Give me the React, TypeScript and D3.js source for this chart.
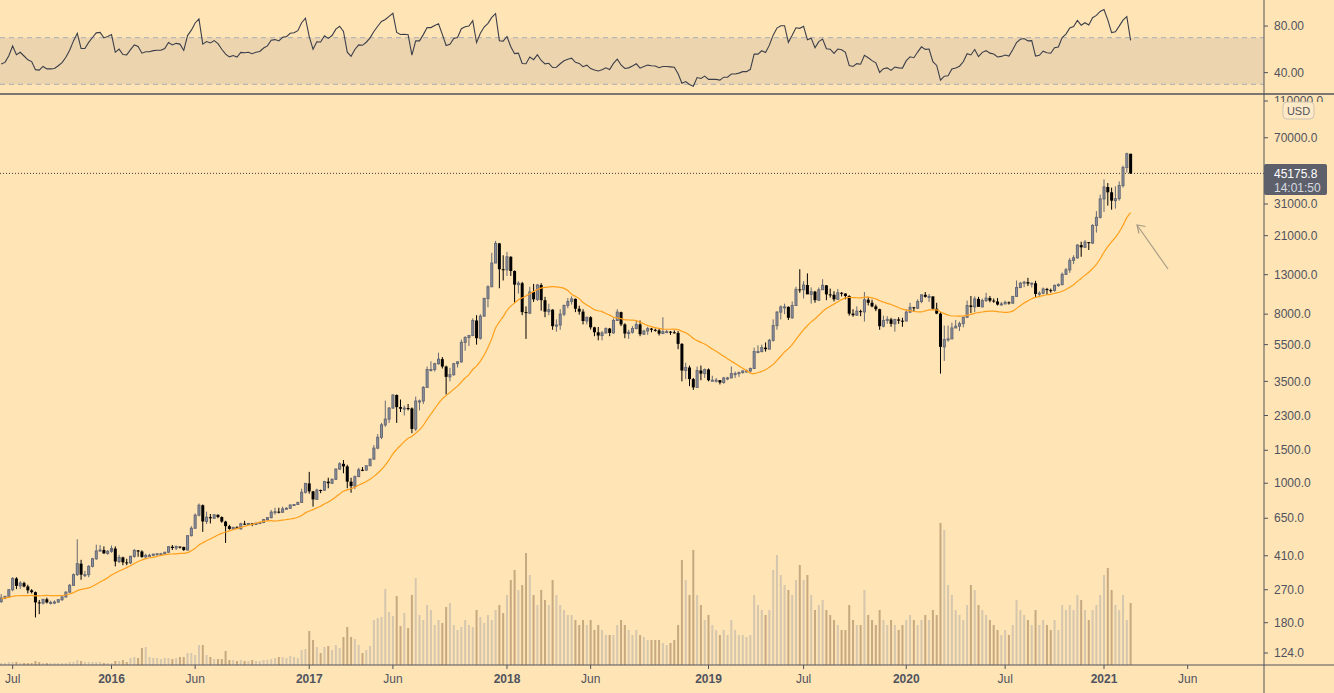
import React from 'react';
import * as d3 from 'd3';

const W = 1334;
const H = 693;

// weekly closes before the first drawn bar (Oct 2014 - Jun 2015), used by the MA and RSI
const warmupCloses = [320, 390, 385, 355, 325, 365, 385, 375, 378, 375, 350, 320, 318, 285, 268, 210, 255,
  226, 223, 234, 236, 260, 276, 285, 267, 248, 255, 236, 222, 219, 240, 240, 236, 240, 230, 225, 233];

// weekly bars [open, high, low, close], first bar 2015-06-15
const bars2015 = [
  [233, 256, 230, 244], [244, 249, 240, 249], [249, 272, 249, 270], [270, 315, 265, 310], [310, 315, 272, 283],
  [283, 300, 272, 293], [293, 298, 278, 281], [281, 287, 258, 268], [268, 272, 258, 262], [262, 264, 192, 231],
  [231, 238, 200, 229], [229, 240, 225, 240], [240, 245, 228, 231], [231, 236, 225, 231], [231, 237, 226, 232],
  [232, 240, 230, 239], [239, 249, 235, 247], [247, 265, 245, 262], [262, 290, 260, 285], [285, 330, 283, 325],
  [325, 502, 320, 372], [372, 390, 305, 325], [325, 340, 315, 325], [325, 365, 315, 360], [360, 400, 355, 395],
  [395, 470, 390, 435], [435, 468, 430, 440], [440, 460, 420, 422], [422, 440, 415, 433],
];
const bars2016 = [
  [433, 465, 425, 448], [448, 460, 360, 382], [382, 415, 375, 402], [402, 405, 365, 378], [378, 395, 365, 376],
  [376, 410, 370, 407], [407, 445, 400, 438], [438, 440, 405, 432], [432, 438, 400, 404], [404, 420, 400, 412],
  [412, 420, 408, 412], [412, 420, 408, 418], [418, 422, 412, 420], [420, 425, 415, 420], [420, 430, 418, 428],
  [428, 462, 425, 458], [458, 468, 440, 451], [451, 465, 440, 459], [459, 460, 448, 457], [457, 458, 435, 440],
  [440, 525, 438, 525], [525, 590, 520, 575], [575, 690, 570, 675], [675, 780, 665, 763], [763, 770, 550, 625],
  [625, 705, 605, 659], [659, 685, 610, 650], [650, 680, 645, 679], [679, 680, 650, 660], [660, 665, 615, 624],
  [624, 630, 480, 590], [590, 600, 565, 570], [570, 585, 565, 581], [581, 590, 570, 571], [571, 615, 565, 608],
  [608, 630, 600, 606], [606, 612, 600, 610], [610, 612, 590, 602], [602, 615, 600, 612], [612, 620, 605, 617],
  [617, 645, 612, 640], [640, 660, 630, 655], [655, 720, 650, 700], [700, 740, 680, 705], [705, 740, 690, 700],
  [700, 750, 695, 730], [730, 745, 725, 735], [735, 770, 730, 765], [765, 775, 755, 770], [770, 795, 765, 790],
  [790, 935, 785, 895], [895, 1000, 880, 998],
];
const bars2017 = [
  [998, 1150, 880, 905], [905, 910, 750, 820], [820, 935, 815, 920], [920, 925, 885, 918], [918, 1030, 915, 1020],
  [1020, 1070, 940, 1000], [1000, 1060, 990, 1050], [1050, 1200, 1040, 1190], [1190, 1295, 1180, 1270],
  [1270, 1330, 1130, 1230], [1230, 1255, 940, 1020], [1020, 1070, 890, 965], [965, 1100, 930, 1085],
  [1085, 1210, 1080, 1180], [1180, 1220, 1160, 1175], [1175, 1240, 1170, 1240], [1240, 1350, 1240, 1345],
  [1345, 1600, 1340, 1540], [1540, 1830, 1520, 1760], [1760, 2100, 1720, 2050], [2050, 2760, 2000, 2200],
  [2200, 2550, 2100, 2520], [2520, 2980, 2500, 2960], [2960, 2980, 2100, 2550], [2550, 2800, 2400, 2500],
  [2500, 2600, 2300, 2520], [2520, 2650, 2450, 2510], [2510, 2540, 1850, 1950], [1950, 2900, 1900, 2750],
  [2750, 2800, 2450, 2750], [2750, 3300, 2650, 3250], [3250, 4200, 3250, 4050], [4050, 4480, 3950, 4050],
  [4050, 4400, 3950, 4350], [4350, 4980, 4300, 4600], [4600, 4720, 4100, 4200], [4200, 4250, 2980, 3700],
  [3700, 4130, 3500, 3800], [3800, 4400, 3750, 4350], [4350, 4480, 4150, 4450], [4450, 5850, 4400, 5650],
  [5650, 6100, 5100, 6000], [6000, 6200, 5400, 6150], [6150, 7600, 6100, 7400], [7400, 7900, 5500, 5950],
  [5950, 8000, 5850, 7800], [7800, 9800, 7800, 9700], [9700, 11400, 8700, 11200], [11200, 17000, 11200, 15000],
  [15000, 19700, 15000, 19100], [19100, 19200, 11000, 13900], [13900, 16500, 12100, 13800],
];
const bars2018 = [
  [13800, 17200, 12800, 16200], [16200, 16300, 12800, 13600], [13600, 13700, 9200, 11500], [11500, 12000, 10300, 11700],
  [11700, 11900, 7900, 8200], [8200, 8800, 5900, 8100], [8100, 11200, 8000, 10500], [10500, 11600, 9300, 9600],
  [9600, 11600, 9400, 11450], [11450, 11700, 8350, 9500], [9500, 9900, 7700, 8250], [8250, 9100, 7900, 8450],
  [8450, 8500, 6600, 6900], [6900, 7500, 6450, 7000], [7000, 8500, 6600, 8000], [8000, 9000, 7800, 8900],
  [8900, 9750, 8600, 9350], [9350, 9950, 9000, 9650], [9650, 9700, 8200, 8550], [8550, 8880, 7950, 8250],
  [8250, 8500, 7050, 7350], [7350, 7750, 7050, 7700], [7700, 7800, 6620, 6800], [6800, 6850, 6100, 6400],
  [6400, 6830, 5800, 6150], [6150, 6500, 5800, 6350], [6350, 6800, 6300, 6700], [6700, 6750, 6100, 6350],
  [6350, 7600, 6300, 7400], [7400, 8500, 7350, 8200], [8200, 8250, 6900, 7050], [7050, 7150, 5950, 6300],
  [6300, 6600, 5900, 6400], [6400, 6900, 6300, 6700], [6700, 7400, 6650, 7050], [7050, 7400, 6100, 6250],
  [6250, 6600, 6200, 6500], [6500, 6850, 6200, 6700], [6700, 6750, 6400, 6600], [6600, 6700, 6450, 6550],
  [6550, 6680, 6150, 6300], [6300, 7700, 6300, 6450], [6450, 6580, 6400, 6450], [6450, 6500, 6200, 6400],
  [6400, 6550, 6300, 6350], [6350, 6500, 5200, 5550], [5550, 5600, 3500, 4000], [4000, 4400, 3600, 4150],
  [4150, 4250, 3300, 3600], [3600, 3650, 3150, 3250], [3250, 4200, 3230, 4000], [4000, 4250, 3550, 3850],
  [3850, 4100, 3650, 4050],
];
const bars2019 = [
  [4050, 4100, 3500, 3550], [3550, 3750, 3500, 3550], [3550, 3650, 3450, 3550], [3550, 3560, 3370, 3450],
  [3450, 3700, 3400, 3650], [3650, 3700, 3550, 3650], [3650, 4200, 3650, 3850], [3850, 3950, 3650, 3850],
  [3850, 3950, 3700, 3900], [3900, 4000, 3850, 3980], [3980, 4050, 3900, 3980], [3980, 4150, 3900, 4100],
  [4100, 5300, 4100, 5050], [5050, 5450, 4950, 5050], [5050, 5500, 5000, 5300], [5300, 5650, 5050, 5200],
  [5200, 5900, 5200, 5800], [5800, 7500, 5700, 6950], [6950, 8300, 6600, 8200], [8200, 8900, 7500, 8750],
  [8750, 9100, 8000, 8750], [8750, 8800, 7450, 7650], [7650, 9350, 7550, 8900], [8900, 11200, 8900, 10850],
  [10850, 13900, 10400, 10800], [10800, 12000, 9700, 11450], [11450, 13200, 10800, 10200], [10200, 11100, 9100, 10550],
  [10550, 10650, 9200, 9500], [9500, 11100, 9400, 10800], [10800, 12300, 10800, 11400], [11400, 11450, 9500, 10200],
  [10200, 10950, 9800, 10150], [10150, 10600, 9350, 9600], [9600, 10900, 9600, 10400], [10400, 10500, 9950, 10300],
  [10300, 10350, 9600, 10000], [10000, 10100, 7850, 8050], [8050, 8500, 7750, 7900], [7900, 8800, 7850, 8300],
  [8300, 8450, 7800, 8220], [8220, 10500, 7300, 9550], [9550, 9900, 8900, 9200], [9200, 9550, 8700, 8800],
  [8800, 9000, 8300, 8500], [8500, 8550, 6600, 6900], [6900, 7850, 6800, 7400], [7400, 7800, 7100, 7500],
  [7500, 7650, 6850, 7100], [7100, 7450, 6450, 7500], [7500, 7700, 7100, 7380], [7380, 7650, 6850, 7350],
];
const bars2020 = [
  [7350, 8500, 7350, 8200], [8200, 9200, 8100, 8700], [8700, 8750, 8250, 8600], [8600, 9600, 8550, 9350],
  [9350, 10150, 9150, 10150], [10150, 10500, 9800, 9900], [9900, 10250, 9300, 9950], [9950, 9950, 8450, 8550],
  [8550, 9200, 8000, 8050], [8050, 8200, 3850, 5350], [5350, 6950, 4500, 5850], [5850, 6950, 5700, 5900],
  [5900, 7200, 5900, 6750], [6750, 7450, 6750, 6900], [6900, 7300, 6500, 7120], [7120, 7750, 6800, 7700],
  [7700, 9450, 7650, 8900], [8900, 10000, 8100, 8750], [8750, 9950, 8200, 9650], [9650, 9900, 8800, 8750],
  [8750, 9700, 8700, 9450], [9450, 10400, 9300, 9750], [9750, 10000, 9250, 9450], [9450, 9700, 9200, 9350],
  [9350, 9750, 8900, 9000], [9000, 9300, 8900, 9070], [9070, 9450, 9050, 9250], [9250, 9350, 9000, 9150],
  [9150, 10000, 9150, 9950], [9950, 12100, 9900, 11100], [11100, 11900, 11000, 11700], [11700, 12050, 11150, 11850],
  [11850, 12500, 11300, 11650], [11650, 11800, 11100, 11700], [11700, 12050, 9900, 10250], [10250, 10600, 9850, 10350],
  [10350, 11100, 10200, 10900], [10900, 11050, 10150, 10750], [10750, 10950, 10400, 10700], [10700, 11500, 10550, 11400],
  [11400, 11700, 11200, 11500], [11500, 13350, 11400, 13050], [13050, 14100, 12950, 13800], [13800, 15950, 13300, 15500],
  [15500, 16500, 14800, 16000], [16000, 18950, 15800, 18700], [18700, 19500, 16200, 18200], [18200, 19900, 18100, 19400],
  [19400, 19400, 17600, 19150], [19150, 24200, 19000, 23800], [23800, 28400, 21800, 26300], [26300, 34800, 25900, 33000],
];
const bars2021 = [
  [33000, 41950, 28100, 38200], [38200, 40100, 30400, 35800], [35800, 37900, 28900, 32300], [32300, 38500, 29300, 33100],
  [33100, 40900, 32300, 38900], [38900, 49700, 37900, 48600], [48600, 58300, 45600, 57500], [57500, 57500, 44900, 45175.8],
];

// weekly volume (thousands)
const vol2015 = [2, 2, 3, 3, 3, 2, 2, 2, 2, 4, 3, 2, 2, 2, 2, 2, 2, 2, 3, 3, 5, 4, 3, 3, 3, 3, 3, 2, 2];
const vol2016 = [2, 4, 4, 5, 3, 7, 8, 7, 17, 18, 8, 7, 7, 6, 7, 7, 6, 7, 8, 8, 12, 12, 10, 20, 20, 10, 8, 6, 6, 6,
  14, 5, 5, 4, 5, 4, 4, 5, 4, 4, 5, 5, 6, 7, 8, 8, 7, 9, 8, 7, 15, 16];
const vol2017 = [34, 25, 18, 12, 18, 19, 15, 20, 17, 28, 38, 28, 26, 20, 12, 15, 19, 45, 47, 48, 76, 53, 49, 69, 39,
  52, 37, 70, 87, 50, 45, 60, 55, 40, 45, 42, 58, 62, 40, 35, 38, 45, 40, 38, 55, 48, 42, 50, 45, 55, 60, 52];
const vol2018 = [70, 85, 95, 75, 80, 112, 90, 70, 60, 75, 65, 60, 85, 70, 60, 55, 50, 50, 45, 40, 45, 40, 45, 35,
  40, 35, 30, 30, 30, 40, 45, 40, 35, 30, 35, 30, 28, 25, 25, 25, 25, 22, 20, 22, 25, 40, 105, 85, 70, 115, 70, 60, 45];
const vol2019 = [50, 40, 35, 30, 35, 30, 45, 35, 30, 30, 28, 30, 70, 60, 55, 50, 55, 95, 110, 90, 80, 75, 70, 85,
  100, 85, 90, 70, 55, 60, 65, 55, 50, 45, 40, 35, 35, 60, 45, 40, 40, 75, 50, 45, 40, 55, 45, 40, 45, 40, 35, 40];
const vol2020 = [45, 50, 45, 40, 45, 50, 45, 55, 50, 142, 135, 80, 70, 55, 50, 45, 60, 80, 75, 60, 55, 50, 45, 40,
  35, 30, 35, 30, 40, 65, 55, 50, 45, 40, 55, 40, 45, 40, 35, 45, 35, 60, 55, 60, 55, 70, 65, 55, 45, 55, 60, 70];
const vol2021 = [90, 97, 75, 60, 55, 70, 45, 62];

const priceTicks = [110000, 70000, 31000, 21000, 13000, 8000, 5500, 3500, 2300, 1500, 1000, 650, 410, 270, 180, 124];
const rsiTicks = [80, 40];
const timeTicks: [string, string][] = [
  ['2015-07-06', 'Jul'], ['2016-01-04', '2016'], ['2016-06-06', 'Jun'], ['2017-01-02', '2017'], ['2017-06-05', 'Jun'],
  ['2018-01-01', '2018'], ['2018-06-04', 'Jun'], ['2019-01-07', '2019'], ['2019-07-01', 'Jul'], ['2020-01-06', '2020'],
  ['2020-07-06', 'Jul'], ['2021-01-04', '2021'], ['2021-06-07', 'Jun'],
];
const lastPrice = 45175.8;
const countdown = '14:01:50';

const BG = '#ffe4b5';
const TEXT = '#50535e';
const LINE = '#50535e';
const FONT = "'Liberation Sans', Arial, sans-serif";

const bars = [...bars2015, ...bars2016, ...bars2017, ...bars2018, ...bars2019, ...bars2020, ...bars2021];
const volumes = [...vol2015, ...vol2016, ...vol2017, ...vol2018, ...vol2019, ...vol2020, ...vol2021];
const dates = d3.utcMonday.range(new Date(Date.UTC(2015, 5, 15)), new Date(Date.UTC(2021, 1, 23)));

const closes = [...warmupCloses, ...bars.map(b => b[3])];
const off = warmupCloses.length;

function sma(vals: number[], n: number, i: number) {
  return d3.mean(vals.slice(i - n + 1, i + 1)) as number;
}

function rsiSeries(vals: number[], n: number) {
  const out: number[] = new Array(vals.length).fill(NaN);
  let up = 0, down = 0;
  for (let i = 1; i < vals.length; i++) {
    const ch = vals[i] - vals[i - 1];
    const g = Math.max(ch, 0), l = Math.max(-ch, 0);
    if (i <= n) {
      up += g / n; down += l / n;
    } else {
      up = (up * (n - 1) + g) / n;
      down = (down * (n - 1) + l) / n;
    }
    if (i >= n) out[i] = down === 0 ? 100 : 100 - 100 / (1 + up / down);
  }
  return out;
}

const rsiAll = rsiSeries(closes, 14);

export default function App() {
  const x = d3.scaleUtc()
    .domain([new Date(Date.UTC(2016, 0, 4)), new Date(Date.UTC(2021, 0, 4))])
    .range([111.5, 1104]);
  const y = d3.scaleLog().domain([124, 110000]).range([653, 101]);
  const yv = d3.scaleLinear().domain([0, 150]).range([665, 515]);
  const yr = d3.scaleLinear().domain([30, 70]).range([84.3, 37.7]);

  const maLine = d3.line<number>()
    .x((_, i) => x(dates[i]))
    .y((_, i) => y(sma(closes, 20, i + off)))
    .curve(d3.curveMonotoneX)(bars.map(b => b[3])) as string;

  const rsiLine = d3.line<number>()
    .x((_, i) => x(dates[i]))
    .y(v => yr(v))(bars.map((_, i) => rsiAll[i + off])) as string;

  const axisX = 1264;
  const bw = 3;

  return (
    <svg width={W} height={H} style={{ position: 'absolute', left: 0, top: 0, background: BG, fontFamily: FONT }}>
      <defs>
        <clipPath id="main"><rect x={0} y={95} width={axisX} height={570} /></clipPath>
        <clipPath id="rsi"><rect x={0} y={0} width={axisX} height={93} /></clipPath>
        <clipPath id="topLabel"><rect x={axisX} y={95} width={70} height={7} /></clipPath>
      </defs>
      <rect width={W} height={H} fill={BG} />

      {/* RSI pane */}
      <g clipPath="url(#rsi)">
        <rect x={0} y={yr(70)} width={axisX} height={yr(30) - yr(70)} fill="#ecd4ae" />
        {[70, 30].map(v => (
          <line key={v} x1={0} x2={axisX} y1={yr(v)} y2={yr(v)} stroke="#a9adb5" strokeDasharray="5,4" />
        ))}
        <path d={rsiLine} fill="none" stroke="#3c3f4a" strokeWidth={1.1} />
      </g>
      {rsiTicks.map(v => (
        <g key={v}>
          <line x1={axisX} x2={axisX + 4} y1={yr(v)} y2={yr(v)} stroke={LINE} />
          <text x={axisX + 10} y={yr(v)} dy="0.35em" fontSize={12} fill={TEXT}>{v.toFixed(2)}</text>
        </g>
      ))}

      {/* volume: lighter for up weeks, darker for down weeks */}
      <g clipPath="url(#main)">
        {volumes.map((v, i) => {
          const b = bars[i];
          return (
            <rect key={i} x={x(dates[i]) - 1} y={yv(v)} width={2} height={yv(0) - yv(v)}
              fill={b[3] >= b[0] ? '#d5c6ae' : '#c6a980'} />
          );
        })}
      </g>

      {/* price line */}
      <line x1={0} x2={axisX} y1={y(lastPrice)} y2={y(lastPrice)} stroke="#3a3a3a" strokeDasharray="1,2" />

      {/* candles */}
      <g clipPath="url(#main)">
        {bars.map((b, i) => {
          const cx = x(dates[i]);
          const [o, h, l, c] = b;
          const upBar = c >= o;
          const top = y(Math.max(o, c));
          const bot = y(Math.min(o, c));
          const col = upBar ? '#666a76' : '#000';
          return (
            <g key={i}>
              <line x1={cx} x2={cx} y1={y(h)} y2={y(l)} stroke={col} strokeWidth={1} />
              {upBar ? (
                <rect x={cx - bw / 2 + 0.5} y={top} width={bw - 1} height={Math.max(bot - top, 1)}
                  fill="#8f929c" stroke={col} strokeWidth={1} />
              ) : (
                <rect x={cx - bw / 2} y={top} width={bw} height={Math.max(bot - top, 1)} fill="#000" />
              )}
            </g>
          );
        })}
        <path d={maLine} fill="none" stroke="#ff9f1a" strokeWidth={1.2} />
      </g>

      {/* arrow */}
      <g stroke="#a89d86" strokeWidth={1.2} fill="none">
        <line x1={1168} y1={269} x2={1137} y2={225} />
        <polyline points="1145.5,226.5 1137,225 1139,233.5" />
      </g>

      {/* frames */}
      <line x1={0} x2={W} y1={94} y2={94} stroke={LINE} strokeWidth={1.5} />
      <line x1={0} x2={W} y1={665} y2={665} stroke={LINE} strokeWidth={1} />
      <line x1={axisX} x2={axisX} y1={0} y2={H} stroke={LINE} strokeWidth={1} />

      {/* price axis */}
      {priceTicks.map(v => (
        <g key={v} clipPath={v === 110000 ? 'url(#topLabel)' : undefined}>
          <line x1={axisX} x2={axisX + 4} y1={y(v)} y2={y(v)} stroke={LINE} />
          <text x={axisX + 10} y={y(v)} dy="0.35em" fontSize={12} fill={TEXT}>{v.toFixed(1)}</text>
        </g>
      ))}
      <rect x={1283} y={102} width={31} height={17} rx={4} fill="#ffe9c6" stroke="#cbc3b3" />
      <text x={1298.5} y={111} dy="0.35em" textAnchor="middle" fontSize={11} fill={TEXT}>USD</text>

      <rect x={axisX} y={164} width={63} height={31} rx={2} fill="#5d606b" />
      <text x={axisX + 10} y={y(lastPrice)} dy="0.35em" fontSize={12} fill="#ffffff">{lastPrice.toFixed(1)}</text>
      <text x={axisX + 10} y={y(lastPrice) + 14.5} dy="0.35em" fontSize={12} fill="#d8dae0">{countdown}</text>

      {/* time axis */}
      {timeTicks.map(([d, label]) => {
        const tx = x(new Date(d + 'T00:00:00Z'));
        const isYear = /^\d{4}$/.test(label);
        return (
          <g key={d}>
            <line x1={tx} x2={tx} y1={665} y2={669} stroke={LINE} />
            <text x={tx} y={683} textAnchor="middle" fontSize={12} fontWeight={isYear ? 'bold' : 'normal'}
              fill={TEXT}>{label}</text>
          </g>
        );
      })}
    </svg>
  );
}
